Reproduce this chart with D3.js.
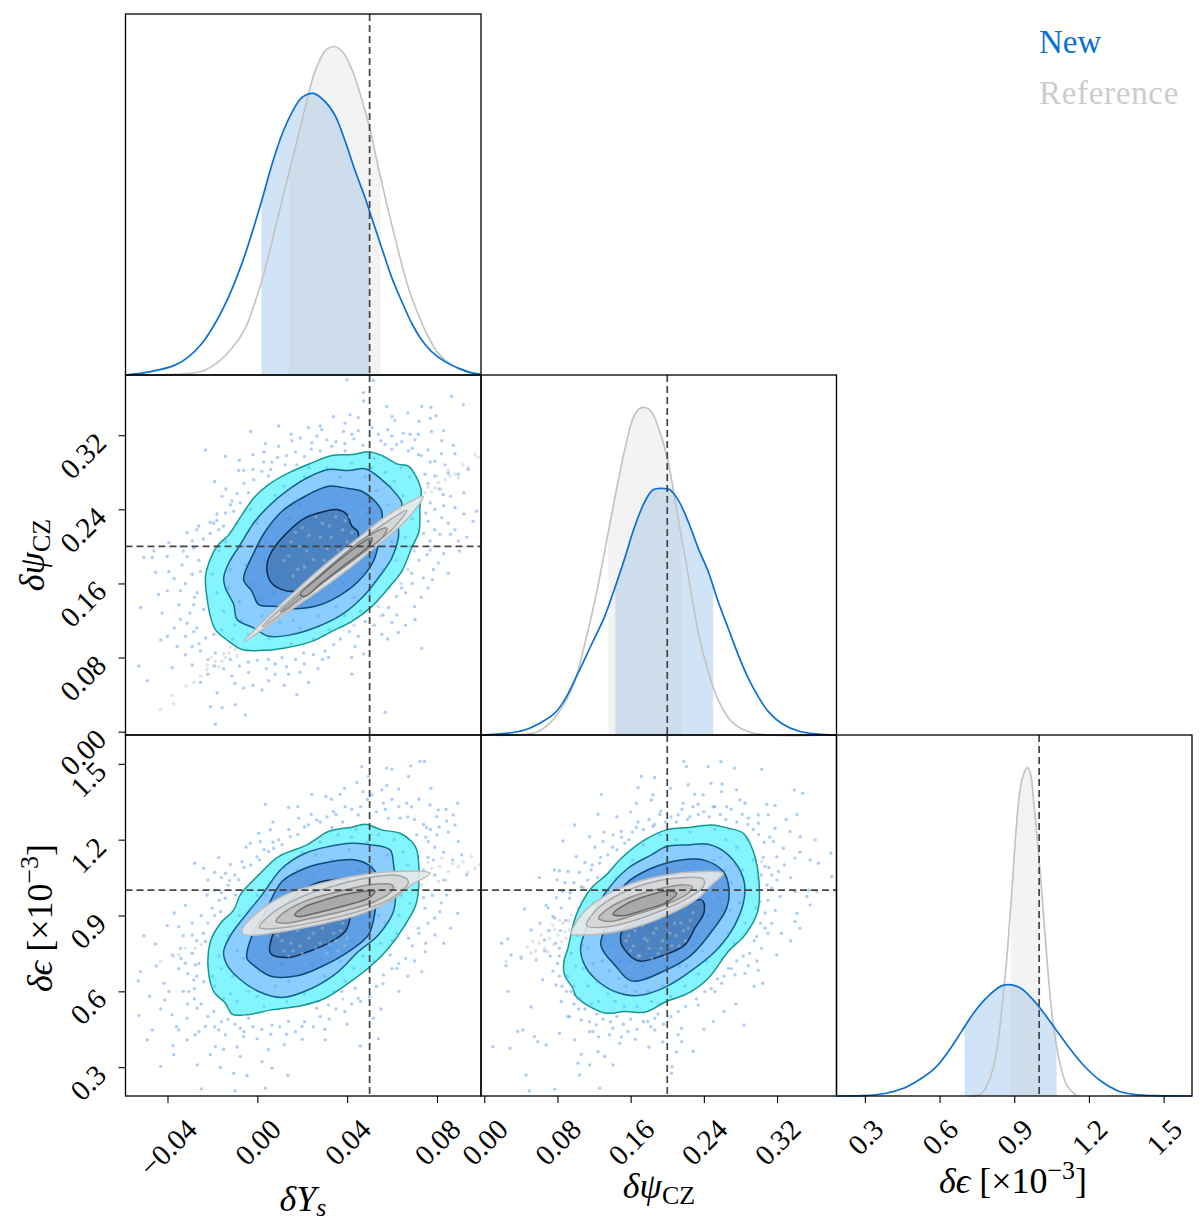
<!DOCTYPE html>
<html><head><meta charset="utf-8">
<script src="https://cdn.jsdelivr.net/npm/d3@7"></script>
<style>html,body{margin:0;padding:0;background:#fff}svg{display:block}
text{font-family:"Liberation Serif","DejaVu Serif",serif;fill:#000}</style></head><body><svg id="c" width="1200" height="1225"></svg>
<script>
// ---------- axes ----------
const ysDomain=[-0.0587,0.0996], psiDomain=[-0.0036,0.385], epsDomain=[0.186,1.614];
const ysTicks=[-0.04,0,0.04,0.08], psiTicks=[0,0.08,0.16,0.24,0.32], epsTicks=[0.3,0.6,0.9,1.2,1.5];
const ysTrue=0.05, psiTrue=0.2, epsTrue=1.0;
const legendLabels=["New","Reference"];
// ---------- 1D posteriors (x value, density as fraction of panel height) ----------
const ysNewX=[-0.0587,-0.0513,-0.0439,-0.0364,-0.0305,-0.0246,-0.0187,-0.0127,-0.0068,-0.0024,0.0021,0.0065,0.0110,0.0154,0.0199,0.0250,0.0302,0.0347,0.0391,0.0436,0.0480,0.0502,0.0554,0.0599,0.0643,0.0687,0.0732,0.0776,0.0836,0.0895,0.0954,0.0996];
const ysNewD=[0,.005,.014,.028,.051,.088,.144,.218,.310,.393,.486,.583,.667,.727,.769,.780,.757,.718,.648,.565,.491,.449,.352,.269,.204,.144,.097,.065,.037,.019,.006,.002];
const ysRefX=[-0.0587,-0.0364,-0.0290,-0.0231,-0.0172,-0.0113,-0.0053,-0.0009,0.0036,0.0080,0.0124,0.0169,0.0213,0.0258,0.0302,0.0339,0.0376,0.0421,0.0465,0.0502,0.0539,0.0584,0.0628,0.0673,0.0717,0.0761,0.0806,0.0865,0.0924,0.0996];
const ysRefD=[0,.002,.005,.014,.037,.074,.130,.204,.296,.407,.519,.630,.741,.843,.898,.910,.898,.847,.764,.681,.574,.454,.343,.241,.167,.106,.060,.028,.011,.003];
const ysNewBand=[0.0018,0.0499], ysRefBand=[0.0141,0.0548];
const psiNewX=[-0.0036,0.0256,0.0439,0.0621,0.0767,0.0877,0.1023,0.1169,0.1315,0.1425,0.1535,0.1644,0.1754,0.1845,0.1936,0.2028,0.2119,0.2229,0.2338,0.2448,0.2557,0.2667,0.2777,0.2886,0.2996,0.3105,0.3251,0.3434,0.3617,0.385];
const psiNewD=[0,.005,.014,.035,.060,.097,.171,.250,.329,.407,.491,.579,.648,.681,.685,.681,.653,.593,.519,.454,.370,.296,.222,.157,.106,.065,.032,.011,.003,0];
const psiRefX=[-0.0036,0.0329,0.0585,0.0731,0.0877,0.0987,0.1096,0.1206,0.1315,0.1425,0.1535,0.1626,0.1699,0.1754,0.1827,0.1918,0.2009,0.2119,0.2229,0.2338,0.2448,0.2557,0.2704,0.2886,0.3105,0.385];
const psiRefD=[0,0,.009,.037,.088,.148,.250,.370,.509,.657,.792,.880,.907,.910,.898,.843,.759,.602,.444,.287,.176,.097,.037,.009,0,0];
const psiNewBand=[0.1432,0.2503], psiRefBand=[0.1356,0.2159];
const epsNewX=[0.186,0.2866,0.3804,0.4607,0.5277,0.5812,0.6348,0.6884,0.7420,0.7955,0.8491,0.8893,0.9294,0.9696,1.0098,1.0634,1.1169,1.1839,1.2509,1.3178,1.3848,1.4652,1.614];
const epsNewD=[0,.001,.007,.023,.049,.077,.123,.179,.235,.277,.305,.308,.297,.271,.238,.188,.137,.081,.040,.014,.004,.001,0];
const epsRefX=[0.7286,0.7688,0.8022,0.8290,0.8491,0.8692,0.8893,0.9094,0.9228,0.9429,0.9536,0.9656,0.9790,0.9991,1.0165,1.0366,1.0567,1.0835,1.1103,1.1504];
const epsRefD=[0,.007,.049,.123,.235,.374,.559,.753,.846,.901,.910,.892,.809,.661,.512,.336,.197,.091,.031,0];
const epsNewBand=[0.7004,1.0701], epsRefBand=[0.8866,1.0058];
// ---------- 2D contours, panel A: dYs vs dPsi ----------
const aNew4X=[-.0231,-.0216,-.0179,-.0127,-.0068,-.0016,.0050,.0139,.0243,.0332,.0421,.0502,.0561,.0621,.0673,.0702,.0729,.0724,.0720,.0687,.0643,.0584,.0510,.0421,.0332,.0243,.0124,.0006,-.0068,-.0127,-.0187,-.0209,-.0224];
const aNew4Y=[.1677,.1821,.2001,.2127,.2343,.2523,.2667,.2793,.2901,.2981,.2991,.3020,.2973,.2891,.2865,.2775,.2613,.2415,.2163,.1983,.1731,.1551,.1353,.1191,.1083,.0975,.0904,.0875,.0886,.0975,.1102,.1245,.1443];
const aNew3X=[-.0150,-.0127,-.0076,-.0016,.0050,.0139,.0236,.0317,.0406,.0480,.0554,.0621,.0643,.0628,.0628,.0599,.0539,.0465,.0376,.0273,.0154,.0050,-.0016,-.0090,-.0105,-.0142];
const aNew3Y=[.1659,.1821,.2019,.2253,.2433,.2613,.2757,.2829,.2819,.2837,.2721,.2559,.2469,.2271,.2091,.1875,.1659,.1443,.1263,.1138,.1048,.1030,.1120,.1210,.1372,.1551];
const aNew2X=[-.0061,-.0016,.0036,.0110,.0213,.0317,.0406,.0465,.0517,.0554,.0547,.0517,.0450,.0361,.0258,.0154,.0073,.0006,-.0024];
const aNew2Y=[.1641,.1929,.2163,.2379,.2541,.2649,.2624,.2595,.2505,.2379,.2127,.1839,.1623,.1461,.1353,.1328,.1353,.1372,.1515];
const aNew1X=[.0043,.0065,.0124,.0213,.0302,.0354,.0399,.0421,.0447,.0443,.0361,.0258,.0169,.0110,.0058];
const aNew1Y=[.1803,.1947,.2127,.2307,.2379,.2397,.2343,.2217,.2163,.2019,.1803,.1605,.1515,.1533,.1623];
const aRef4X=[-.0061,.0065,.0184,.0302,.0450,.0584,.0739,.0658,.0539,.0421,.0302,.0184,.0065];
const aRef4Y=[.0968,.1282,.1551,.1803,.2091,.2343,.2541,.2271,.2019,.1785,.1569,.1372,.1174];
const aRef3X=[.0021,.0124,.0243,.0376,.0517,.0665,.0599,.0480,.0361,.0243,.0124];
const aRef3Y=[.1130,.1372,.1623,.1893,.2163,.2387,.2181,.1947,.1731,.1515,.1299];
const aRef2X=[.0102,.0213,.0332,.0480,.0576,.0561,.0450,.0317,.0199,.0124];
const aRef2Y=[.1292,.1533,.1803,.2091,.2199,.2109,.1893,.1659,.1461,.1317];
const aRef1X=[.0191,.0287,.0376,.0487,.0510,.0502,.0391,.0295,.0213];
const aRef1Y=[.1479,.1695,.1875,.2073,.2091,.2019,.1803,.1623,.1461];
// ---------- panel B: dYs vs dEps ----------
const bNew4X=[-.0219,-.0209,-.0164,-.0105,-.0076,.0006,.0095,.0221,.0317,.0421,.0480,.0554,.0636,.0687,.0710,.0710,.0658,.0584,.0502,.0406,.0302,.0199,.0065,-.0053,-.0113,-.0142,-.0194];
const bNew4Y=[.6915,.7969,.8694,.9222,.9815,1.0606,1.1332,1.1793,1.2321,1.2492,1.2611,1.2387,1.2255,1.1925,1.1596,.9552,.8629,.7706,.6981,.6322,.5728,.5438,.5267,.5069,.5095,.5530,.5992];
const bNew3X=[-.0150,-.0113,-.0039,.0021,.0110,.0213,.0317,.0421,.0510,.0591,.0606,.0616,.0606,.0539,.0450,.0361,.0243,.0110,.0006,-.0083,-.0135];
const bNew3Y=[.7574,.8299,.9156,.9815,1.0870,1.1463,1.1727,1.1859,1.1793,1.1596,1.1069,.9947,.9156,.8233,.7574,.6783,.6123,.5754,.5992,.6519,.7047];
const bNew2X=[-.0046,-.0031,.0036,.0110,.0213,.0332,.0436,.0495,.0532,.0524,.0495,.0406,.0302,.0184,.0065,-.0009];
const bNew2Y=[.7310,.8035,.9156,1.0343,1.0870,1.1134,1.1200,1.1002,1.0606,.9156,.8233,.7574,.7047,.6625,.6585,.6981];
const bNew1X=[.0058,.0073,.0139,.0243,.0332,.0406,.0413,.0391,.0317,.0228,.0139];
const bNew1Y=[.7509,.8366,.9552,1.0211,1.0408,1.0343,.8893,.8366,.7904,.7575,.7338];
const bRef4X=[-.0068,.0006,.0124,.0258,.0421,.0599,.0769,.0687,.0599,.0450,.0302,.0154,.0006,-.0061];
const bRef4Y=[.8431,.9156,.9815,1.0211,1.0540,1.0738,1.0672,1.0211,.9618,.9025,.8696,.8431,.8233,.8259];
const bRef3X=[.0009,.0065,.0199,.0332,.0480,.0628,.0673,.0599,.0450,.0302,.0154,.0036];
const bRef3Y=[.8523,.9090,.9749,1.0145,1.0474,1.0580,1.0343,.9684,.9156,.8827,.8563,.8470];
const bRef2X=[.0083,.0124,.0228,.0361,.0495,.0599,.0606,.0524,.0376,.0228,.0124];
const bRef2Y=[.8760,.9156,.9618,.9947,1.0211,1.0211,1.0053,.9552,.9156,.8866,.8695];
const bRef1X=[.0166,.0213,.0302,.0391,.0495,.0524,.0495,.0376,.0258,.0184];
const bRef1Y=[.9025,.9354,.9618,.9842,.9974,.9947,.9684,.9354,.9090,.8958];
// ---------- panel C: dPsi vs dEps ----------
const cNew4X=[.0870,.0914,.1005,.1169,.1334,.1498,.1754,.1991,.2229,.2484,.2667,.2831,.2941,.3003,.2989,.2850,.2667,.2448,.2229,.1991,.1754,.1535,.1334,.1133,.1005,.0968,.0877];
const cNew4Y=[.7179,.7706,.9025,1.0080,1.0606,1.1266,1.1991,1.2387,1.2479,1.2584,1.2453,1.2255,1.1530,1.0343,.9156,.8233,.7574,.6519,.5926,.5596,.5174,.5201,.5135,.5438,.5794,.6123,.6651];
const cNew3X=[.1052,.1133,.1334,.1571,.1827,.1991,.2229,.2448,.2667,.2831,.2842,.2740,.2557,.2302,.1991,.1681,.1425,.1206,.1096];
const cNew3Y=[.7706,.8629,.9947,1.0870,1.1397,1.1727,1.1793,1.1820,1.1397,1.0474,.9684,.8629,.7706,.6915,.6189,.5833,.5992,.6519,.7047];
const cNew2X=[.1272,.1370,.1535,.1827,.2156,.2393,.2612,.2674,.2649,.2484,.2265,.1991,.1608,.1425,.1315];
const cNew2Y=[.7904,.8893,1.0211,1.0870,1.1200,1.1200,1.0738,1.0080,.9288,.8366,.7443,.6849,.6414,.7047,.7509];
const cNew1X=[.1491,.1516,.1936,.2375,.2404,.2302,.2192,.1991,.1681,.1535];
const cNew1Y=[.7970,.8431,.9025,.9618,.9156,.8497,.7838,.7469,.7206,.7641];
const cRef4X=[.0950,.1060,.1279,.1571,.1900,.2229,.2612,.2484,.2338,.2009,.1608,.1243,.1023];
const cRef4Y=[.8259,.9025,.9684,1.0211,1.0540,1.0712,1.0672,1.0211,.9684,.9025,.8497,.8259,.8233];
const cRef3X=[.1118,.1243,.1498,.1790,.2083,.2393,.2393,.2192,.1863,.1535,.1243];
const cRef3Y=[.8602,.9288,.9881,1.0277,1.0474,1.0448,1.0145,.9618,.9090,.8695,.8523];
const cRef2X=[.1250,.1334,.1571,.1863,.2156,.2272,.2229,.1973,.1644,.1370];
const cRef2Y=[.8893,.9222,.9684,1.0013,1.0211,1.0145,.9881,.9420,.9025,.8760];
const cRef1X=[.1407,.1535,.1754,.2009,.2101,.2009,.1754,.1535];
const cRef1Y=[.9051,.9420,.9749,.9974,.9881,.9552,.9222,.8999];
// ---------- scatter samples outside the contours ----------
const aNewPts=[[.0399,.380],[.0517,.379],[.0473,.366],[.0865,.362],[.0917,.353],[.0473,.357],[.0576,.351],[.0732,.351],[.0773,.350],[.0670,.344],[.0502,.345],[.0339,.340],[.0796,.341],[.0770,.338],[.0413,.342],[.0450,.339],[.0391,.333],[.0613,.336],[.0095,.330],[.0228,.328],[.0287,.326],[.0384,.324],[.0421,.321],[.0539,.321],[.0599,.319],[.0680,.321],[.0717,.321],[.0776,.324],[-.003,.324],[.0191,.317],[.0265,.319],[.0154,.314],[.0036,.311],[.0095,.308],[-.0231,.304],[.0243,.312],[.0332,.308],[.0391,.303],[.0569,.310],[.0643,.313],[.0702,.315],[.0821,.314],[.0873,.309],[.0939,.283],[-.0142,.297],[-.002,.299],[.0028,.291],[.0065,.291],[.0124,.288],[.0176,.288],[-.0061,.282],[-.0083,.282],[-.0016,.272],[.0050,.276],[-.0039,.258],[-.0157,.254],[-.0113,.249],[-.0076,.247],[-.0142,.236],[-.0105,.238],[-.0261,.222],[-.0194,.225],[-.0172,.218],[-.0313,.215],[-.0394,.204],[-.0342,.200],[-.0283,.198],[-.0505,.188],[-.0468,.188],[-.0401,.189],[-.0313,.189],[-.0453,.172],[-.0394,.173],[-.0335,.180],[-.0253,.173],[-.0401,.152],[-.0342,.152],[-.0268,.150],[-.0520,.134],[-.0283,.137],[-.0239,.132],[-.0424,.128],[-.0342,.121],[-.0313,.117],[-.0283,.108],[-.0430,.099],[-.0401,.103],[-.0357,.092],[-.0231,.101],[-.0194,.105],[-.0253,.087],[-.0187,.085],[-.0528,.071],[-.0490,.055],[-.0379,.069],[-.0290,.072],[-.0113,.060],[-.0039,.064],[.0080,.062],[.0139,.062],[-.0253,.053],[-.0179,.042],[-.0061,.047],[.0021,.045],[.0228,.053],[.0176,.040],[-.0209,.027],[-.0098,.029],[-.0157,.026],[-.0053,.018],[-.0187,.008],[.0569,.021],[.0421,.062],[.0317,.080],[.0206,.085],[.0050,.078],[.0110,.080],[.0302,.087],[.0436,.092],[.0473,.084],[.0628,.107],[.0554,.105],[.0584,.134],[.0621,.126],[.0702,.121],[.0732,.090],[.0643,.155],[.0687,.171],[.0739,.166],[.0784,.175],[.0850,.171],[.0806,.182],[.0756,.191],[.0895,.206],[.0932,.210],[.0813,.213],[.0769,.206],[.0976,.238],[.0961,.227],[.0880,.242],[.0821,.231],[.0761,.227],[.0828,.256],[.0770,.291],[.0836,.288],[.0895,.278],[.0747,.278],[.0717,.299],[.0673,.303],[.0599,.305],
[-.018,.235],[-.021,.226],[-.012,.245],[-.009,.257],[-.014,.262],[-.006,.268],[-.002,.283],[.002,.281],[.006,.283],[.009,.296],[.013,.298],[.017,.302],[.021,.297],[.024,.305],[.028,.303],[.031,.315],[.035,.313],[.039,.311],[.043,.316],[.047,.309],[.051,.328],[.055,.314],[.058,.326],[.062,.310],[.065,.322],[.069,.306],[.073,.298],[.076,.304],[.079,.292],[.082,.300],[.085,.279],[.079,.276],[.076,.268],[.081,.262],[.086,.254],[.077,.247],[.083,.244],[.079,.240],[.075,.236],[.085,.225],[.079,.218],[.088,.218],[.074,.214],[.077,.196],[.083,.192],[.072,.185],[.078,.164],[.069,.160],[.066,.150],[.073,.145],[.062,.146],[.060,.118],[.056,.126],[.052,.115],[.048,.119],[.045,.103],[.041,.108],[.037,.100],[.034,.094],[.029,.078],[.025,.083],[.021,.073],[.017,.078],[.013,.070],[.008,.073],[.004,.068],[.000,.077],[-.004,.075],[-.008,.071],[-.012,.078],[-.015,.068],[-.019,.071],[-.022,.078],[-.026,.095],[-.029,.092],[-.032,.103],[-.027,.112],[-.030,.128],[-.035,.137],[-.028,.145],[-.032,.160],[-.037,.165],[-.029,.170],[-.026,.185],[-.033,.195],[-.029,.206],[-.024,.208],[-.021,.214],[-.027,.218],[-.018,.228],[-.015,.222],[-.002,.050],[-.010,.052],[.005,.055],[.012,.050],[.019,.064],[.027,.068],[-.022,.062],[-.032,.083],[-.037,.112],[-.044,.148],[-.046,.195],[.042,.080],[.050,.095],[.058,.100],[.066,.115],[.070,.135],[.076,.155],[.090,.195],[.086,.213],[.092,.235],[.092,.258],[.088,.300],[.083,.325],[.072,.335],[.060,.340],[.045,.325],[.028,.330],[.015,.321],[.003,.302],[-.008,.293],[-.019,.270]];
const aRefPts=[[-.0431,.024],[-.0373,.030],[-.0380,.039],[-.0317,.049],[-.0283,.053],[-.0253,.060],[-.0224,.067],[-.0194,.071],[-.0157,.076],[-.0127,.085],[-.0098,.089],[-.0068,.094],[.0747,.258],[.0791,.263],[.0836,.272],[.0880,.278],[.0939,.285],[.0969,.299],[.0984,.296],[.0806,.269],[.0858,.276],[.0776,.259],[.0895,.274],[-.0224,.072],[-.0142,.080],[-.0187,.076],[-.0205,.080],[-.0170,.070],[-.0120,.091],[-.0090,.082],[-.0150,.084],[.0760,.264],[.0820,.262],[.0850,.282],[.0915,.288],[.0800,.276]];
const bNewPts=[[.0724,1.509],[.0744,1.509],[.0683,1.492],[.0465,1.489],[.0576,1.483],[.0599,1.479],[.0673,1.450],[.0495,1.450],[.0443,1.426],[.0576,1.414],[.0773,1.403],[.0388,1.403],[.0554,1.397],[.0510,1.377],[.0369,1.379],[.0243,1.379],[.0305,1.371],[.0769,1.337],[.0892,1.344],[.0036,1.340],[.0139,1.327],[.0561,1.344],[.0665,1.344],[.0687,1.330],[.0806,1.318],[.0873,1.298],[.0450,1.298],[.0391,1.330],[.0339,1.311],[.0184,1.285],[.0265,1.278],[.0584,1.285],[.0636,1.285],[.0799,1.291],[.0843,1.274],[.0753,1.248],[.0332,1.248],[.0006,1.225],[.0058,1.239],[.0228,1.258],[.0880,1.258],[.0710,1.219],[.0799,1.219],[.0013,1.193],[.0147,1.212],[.0095,1.199],[-.0031,1.186],[.0895,1.193],[.0073,1.166],[.0761,1.193],[-.0172,1.129],[-.0068,1.113],[-.0001,1.132],[.0050,1.153],[-.0120,1.102],[-.0279,1.107],[-.0239,1.087],[-.0142,1.067],[.0784,1.120],[.0717,1.132],[-.0083,1.041],[-.0124,1.038],[-.0224,.981],[-.0142,.968],[-.0098,.981],[-.0201,.929],[-.0164,.915],[-.0401,.860],[-.0350,.856],[-.0505,.820],[-.0290,.823],[-.0453,.787],[-.0342,.770],[-.0379,.744],[-.0231,.797],[-.0320,.711],[-.0276,.705],[-.0520,.678],[-.0530,.642],[-.0416,.632],[-.0283,.645],[-.0394,.599],[-.0305,.599],[-.0239,.638],[-.0412,.566],[-.0268,.533],[-.0379,.507],[-.0194,.520],[-.0527,.505],[-.0313,.494],[-.0172,.447],[-.0468,.447],[-.0350,.447],[-.0490,.408],[-.0313,.408],[-.0276,.428],[-.0231,.461],[-.0376,.385],[-.0187,.382],[-.0142,.428],[-.0076,.454],[-.0061,.421],[-.0001,.412],[-.0039,.494],[.0065,.467],[.0139,.481],[.0199,.461],[.0265,.533],[.0302,.408],[-.0372,.349],[-.0209,.349],[-.0076,.342],[.0021,.322],[-.0430,.303],[-.0267,.309],[-.0164,.299],[.0065,.296],[-.0105,.276],[-.0046,.267],[.0136,.267],[-.0249,.214],[-.0098,.206],[.0036,.217],[.0458,.384],[.0539,.412],[.0517,.494],[.0436,.612],[.0376,.599],[.0317,.546],[.0450,.573],[.0561,.665],[.0621,.691],[.0591,.744],[.0732,.678],[.0673,.810],[.0747,.757],[.0791,.823],[.0717,.850],[.0813,.915],[.0892,.909],[.0843,.981],[.0747,.929],[.0932,1.060],
[-.016,.99],[-.013,1.02],[-.019,1.00],[-.010,1.06],[-.006,1.09],[-.003,1.10],[.001,1.12],[.003,1.16],[.007,1.19],[.011,1.18],[.014,1.24],[.018,1.22],[.021,1.25],[.024,1.30],[.028,1.27],[.031,1.29],[.035,1.30],[.038,1.27],[.042,1.32],[.046,1.33],[.049,1.36],[.053,1.31],[.057,1.32],[.060,1.36],[.063,1.33],[.067,1.29],[.070,1.28],[.074,1.26],[.077,1.24],[.081,1.25],[.085,1.23],[.075,1.21],[.079,1.17],[.083,1.15],[.076,1.13],[.087,1.12],[.074,1.08],[.079,1.06],[.083,1.04],[.078,.98],[.074,.97],[.082,.95],[.076,.87],[.079,.89],[.072,.83],[.069,.78],[.075,.79],[.066,.73],[.063,.71],[.060,.69],[.067,.66],[.056,.63],[.053,.62],[.050,.58],[.046,.56],[.042,.55],[.039,.52],[.035,.53],[.032,.49],[.028,.50],[.025,.46],[.021,.48],[.017,.44],[.013,.43],[.010,.46],[.006,.43],[.002,.45],[-.002,.46],[-.006,.44],[-.010,.47],[-.013,.49],[-.016,.48],[-.019,.46],[-.022,.50],[-.025,.55],[-.028,.57],[-.031,.55],[-.033,.60],[-.028,.61],[-.027,.66],[-.031,.67],[-.035,.69],[-.026,.71],[-.029,.75],[-.034,.73],[-.027,.80],[-.033,.82],[-.024,.83],[-.022,.87],[-.029,.87],[-.019,.90],[-.025,.90],[-.017,.96],[-.022,1.04],[-.016,1.05],[-.045,.70],[-.048,.58],[-.043,.53],[-.036,.46],[-.026,.44],[-.015,.37],[-.009,.38],[.005,.37],[.012,.39],[.020,.41],[.030,.45],[.040,.47],[.055,.53],[.063,.60],[.070,.72],[.083,.79],[.086,.85],[.089,1.00],[.091,1.14],[.084,1.32],[.072,1.36],[.063,1.40],[.047,1.39],[.033,1.36],[.018,1.33],[.007,1.27],[-.005,1.17],[-.019,1.07],[-.032,.94],[-.037,.91]];
const bRefPts=[[-.0431,.718],[-.0373,.738],[-.0320,.770],[-.0276,.770],[-.0231,.797],[-.0172,.836],[-.0127,.856],[-.0098,.863],[.0717,1.087],[.0776,1.087],[.0813,1.094],[.0850,1.074],[.0895,1.094],[.0954,1.133],[.0969,1.087],[.0821,1.127],[.0747,1.054],[.0806,1.034],[.0732,1.021],[.0917,1.113],[-.0350,.745],[-.0250,.785],[-.0200,.810],[-.0290,.750],[-.0150,.845],[.0790,1.060],[.0870,1.105],[.0935,1.070],[.0760,1.110],[.0840,1.040],[.0990,1.100]];
const cNewPts=[[.2182,1.509],[.2587,1.509],[.2210,1.489],[.2448,1.489],[.2733,1.483],[.3032,1.479],[.1718,1.450],[.1863,1.446],[.2229,1.417],[.2477,1.423],[.2035,1.403],[.1681,1.406],[.3390,1.397],[.3481,1.384],[.1279,1.379],[.1845,1.377],[.2393,1.377],[.2594,1.390],[.2758,1.397],[.1827,1.357],[.2174,1.344],[.2338,1.340],[.2502,1.330],[.2850,1.344],[.3087,1.340],[.3178,1.335],[.1663,1.344],[.2649,1.330],[.2795,1.357],[.0859,1.195],[.0987,1.258],[.1243,1.300],[.1929,1.313],[.2119,1.298],[.2247,1.291],[.2996,1.298],[.3105,1.298],[.3416,1.300],[.2886,1.285],[.1663,1.248],[.1845,1.252],[.1498,1.232],[.1407,1.219],[.1151,1.212],[.1535,1.186],[.1297,1.193],[.2996,1.265],[.3178,1.245],[.3342,1.232],[.3452,1.212],[.3617,1.199],[.3160,1.193],[.3270,1.166],[.3562,1.120],[.3789,1.146],[.3653,1.107],[.3197,1.132],[.3397,1.127],[.3068,1.094],[.3215,1.074],[.3799,1.054],[.3142,1.060],[.3142,1.008],[.3397,.995],[.3014,.955],[.3233,.975],[.3525,.975],[.3562,.942],[.3635,.995],[.3416,.909],[.3142,.869],[.3068,.850],[.3397,.876],[.2977,.817],[.3197,.744],[.2886,.701],[.2996,.683],[.2667,.691],[.2850,.671],[.3043,.632],[.2594,.632],[.2740,.665],[.2411,.599],[.2521,.599],[.2338,.546],[.2503,.481],[.2839,.467],[.2156,.454],[.1863,.447],[.2119,.428],[.2284,.362],[.2046,.276],[.2053,.302],[.2156,.401],[.1571,.441],[.1863,.494],[.1790,.481],[.1407,.454],[.1224,.467],[.1370,.428],[.1187,.441],[.1060,.487],[.0932,.500],[.1243,.361],[.1480,.395],[.1060,.351],[.1023,.316],[.1151,.309],[.1042,.269],[.1261,.217],[.0768,.213],[.0494,.206],[.0457,.269],[.1407,.309],[.1315,.342],[.0987,.408],[.0822,.434],[.0676,.388],[.0548,.421],[.0585,.401],[.0421,.447],[.0365,.441],[.0092,.381],[.0282,.375],[.0512,.538],[.0256,.600],[.0639,.646],[.0785,.625],[.0567,.724],[.0293,.744],[.0238,.701],[.0402,.731],[.0190,.790],[.0256,.807],[.0512,.843],[.0439,.926],[.0676,.941],[.0603,1.050],[.0797,1.041],[.0822,1.077],[.0914,1.074],[.0768,1.080],[.1060,1.014],[.1169,1.080],[.1261,1.107],[.1005,1.133],[.0859,.995],[.0932,.968],[.0749,.896],[.0658,.803],[.0822,.770],[.0987,.586],[.0841,.560],[.0914,.500],
[.118,1.10],[.124,1.05],[.113,1.04],[.108,1.01],[.127,1.13],[.135,1.14],[.140,1.17],[.145,1.16],[.150,1.21],[.158,1.20],[.162,1.23],[.168,1.27],[.174,1.24],[.180,1.28],[.186,1.26],[.192,1.30],[.198,1.27],[.204,1.29],[.210,1.27],[.216,1.32],[.222,1.28],[.228,1.33],[.234,1.30],[.240,1.31],[.246,1.29],[.252,1.33],[.258,1.30],[.264,1.28],[.270,1.32],[.276,1.27],[.282,1.30],[.288,1.26],[.294,1.24],[.300,1.22],[.306,1.19],[.312,1.21],[.305,1.13],[.311,1.09],[.303,1.06],[.309,1.02],[.320,1.04],[.328,1.10],[.335,1.05],[.310,.96],[.318,.92],[.307,.91],[.302,.87],[.310,.83],[.325,.83],[.295,.80],[.303,.77],[.290,.75],[.283,.74],[.276,.72],[.298,.72],[.270,.69],[.262,.66],[.255,.65],[.248,.61],[.240,.64],[.232,.57],[.226,.60],[.220,.54],[.212,.52],[.204,.50],[.196,.47],[.190,.51],[.182,.46],[.174,.48],[.167,.45],[.160,.49],[.152,.47],[.145,.50],[.138,.48],[.130,.49],[.123,.51],[.115,.48],[.110,.53],[.103,.53],[.098,.55],[.095,.60],[.090,.60],[.085,.62],[.082,.66],[.075,.68],[.080,.71],[.072,.74],[.082,.74],[.066,.76],[.078,.79],[.071,.84],[.083,.84],[.061,.87],[.077,.89],[.089,.88],[.070,.93],[.084,.93],[.094,.99],[.079,.97],[.098,1.03],[.088,1.03],[.104,1.07],[.110,1.11],[.121,1.17],[.131,1.23],[.115,.44],[.125,.42],[.150,.42],[.165,.41],[.180,.38],[.195,.40],[.210,.36],[.240,.45],[.262,.52],[.275,.55],[.295,.62],[.335,.80],[.345,.85],[.355,1.00],[.345,1.15],[.330,1.28],[.260,1.42],[.230,1.38],[.160,1.31],[.145,1.29]];
const cRefPts=[[.0238,.718],[.0402,.738],[.0512,.751],[.0530,.797],[.0658,.770],[.0713,.810],[.0804,.823],[.0749,.862],[.0859,.869],[.0932,.843],[.0950,.902],[.0841,.797],[.0621,.823],[.0694,.757],[.0895,.810],[.1023,.929],[.1169,.968],[.1243,1.001],[.2448,1.087],[.2557,1.107],[.2776,1.113],[.2850,1.094],[.3032,1.113],[.0600,.790],[.0760,.785],[.0880,.835],[.0690,.840],[.0820,.880],[.0920,.880],[.0560,.760],[.0980,.860],[.0470,.775],[.0770,.845]];
// ---------- samples seen inside the contours ----------
const aNewIn=[[-.018,.150],[-.015,.130],[-.012,.175],[-.010,.115],[-.008,.140],[-.006,.200],[-.004,.105],[-.002,.160],[0,.225],[.002,.125],[.003,.185],[.005,.100],[.006,.245],[.007,.150],[.009,.210],[.010,.118],[.011,.170],[.012,.265],[.013,.135],[.014,.230],[.015,.095],[.016,.190],[.017,.155],[.018,.250],[.019,.112],[.020,.210],[.021,.275],[.022,.140],[.023,.170],[.024,.235],[.025,.100],[.026,.195],[.027,.125],[.028,.260],[.029,.155],[.030,.215],[.031,.285],[.032,.110],[.033,.180],[.034,.245],[.035,.135],[.036,.205],[.037,.275],[.038,.160],[.039,.125],[.040,.230],[.041,.185],[.042,.290],[.043,.145],[.044,.255],[.045,.210],[.046,.130],[.047,.170],[.048,.275],[.049,.235],[.050,.150],[.051,.195],[.052,.295],[.053,.260],[.054,.135],[.055,.220],[.056,.175],[.057,.280],[.058,.245],[.059,.155],[.060,.205],[.061,.270],[.062,.185],[.063,.235],[.064,.160],[.065,.255],[.066,.210],[.067,.175],[.068,.275],[.069,.230],[.070,.195],[-.020,.170],[-.017,.195],[-.014,.205],[-.009,.225],[-.016,.110],[-.013,.155],[-.011,.100],[-.007,.120],[-.005,.180],[-.003,.240],[.001,.145],[.004,.205],[.008,.255],[.012,.195],[.016,.120],[.019,.245],[.023,.285],[.027,.225],[.031,.165],[.035,.265],[.039,.195],[.043,.115],[.047,.245],[.051,.285],[.055,.125],[.059,.265],[.064,.285],[.068,.200]];
const bNewIn=[[-.019,.62],[-.017,.74],[-.015,.57],[-.013,.82],[-.011,.66],[-.009,.56],[-.008,.90],[-.006,.73],[-.004,.60],[-.002,.84],[0,.98],[.001,.68],[.003,.54],[.005,.78],[.006,1.03],[.008,.62],[.009,.90],[.011,.71],[.012,1.09],[.013,.56],[.015,.83],[.016,1.00],[.017,.66],[.019,.76],[.020,1.15],[.021,.59],[.023,.92],[.024,.71],[.025,1.06],[.026,.82],[.027,.56],[.028,1.19],[.030,.66],[.031,.97],[.032,.77],[.033,1.12],[.034,.60],[.035,.87],[.036,1.22],[.037,.72],[.038,1.03],[.039,.64],[.040,.93],[.041,1.16],[.042,.80],[.043,.69],[.044,1.24],[.045,1.08],[.046,.88],[.047,.74],[.048,.99],[.049,1.19],[.050,.82],[.051,1.10],[.052,.72],[.053,.94],[.054,1.22],[.055,.79],[.056,1.03],[.057,.87],[.058,1.14],[.059,.96],[.060,.80],[.061,1.20],[.062,1.06],[.063,.90],[.064,.98],[.065,1.15],[.066,.86],[.067,1.10],[.068,.95],[.069,1.03],[-.020,.66],[-.016,.69],[-.012,.59],[-.009,.76],[-.006,.84],[-.003,.93],[.000,.58],[.004,.98],[.007,.69],[.010,.80],[.014,.64],[.018,1.08],[.022,.84],[.026,1.14],[.030,.89],[.034,1.04],[.038,.57],[.042,1.21],[.046,1.02],[.050,.69],[.054,.90],[.058,1.02],[.062,.83],[.066,1.04],[.028,.73],[.020,.98],[.012,.86],[.036,.95]];
const cNewIn=[[.091,.66],[.095,.75],[.098,.62],[.102,.82],[.105,.57],[.108,.69],[.111,.88],[.114,.77],[.117,.55],[.120,.95],[.123,.64],[.126,.84],[.129,.72],[.132,1.00],[.135,.59],[.138,.90],[.141,.78],[.144,1.05],[.147,.65],[.150,.84],[.153,.54],[.156,.97],[.159,.72],[.162,1.12],[.165,.60],[.168,.88],[.171,.79],[.174,1.18],[.177,.66],[.180,1.02],[.183,.56],[.186,.93],[.189,.74],[.192,1.22],[.195,.62],[.198,1.10],[.201,.83],[.204,.58],[.207,.97],[.210,1.20],[.213,.70],[.216,1.05],[.219,.62],[.222,.90],[.225,1.23],[.228,.78],[.231,1.12],[.234,.67],[.237,.96],[.240,1.18],[.243,.72],[.246,1.04],[.249,.85],[.252,1.24],[.255,.77],[.258,1.13],[.261,.92],[.264,1.20],[.267,.83],[.270,1.03],[.273,.79],[.276,1.17],[.279,.95],[.282,1.08],[.285,.87],[.288,1.20],[.291,1.00],[.294,1.12],[.297,.93],[.299,1.05],[.100,.70],[.107,.78],[.113,.62],[.119,.71],[.125,.56],[.131,.80],[.137,.68],[.143,.56],[.149,.72],[.155,.62],[.161,.80],[.167,.54],[.173,.70],[.179,.60],[.185,.82],[.191,.55],[.197,.70],[.203,.90],[.209,.64],[.215,.78],[.221,.70],[.227,.88],[.233,.82],[.239,.76],[.245,.90],[.251,1.12],[.257,.97],[.263,1.08],[.269,.92],[.275,1.10]];
const aRefIn=[[.012,.185],[.015,.205],[.018,.175],[.020,.220],[.022,.195],[.024,.165],[.026,.232],[.028,.210],[.030,.185],[.032,.222],[.034,.172],[.035,.232],[.036,.196],[.038,.218],[.040,.205],[.041,.232],[.014,.190],[.017,.215],[.021,.178],[.023,.212],[.025,.186],[.027,.168],[.029,.225],[.031,.198],[.033,.210],[.037,.180],[.039,.228],[.042,.215],[.016,.168],[.019,.200]];
const bRefIn=[[.009,.82],[.012,.76],[.015,.79],[.018,.84],[.020,.75],[.023,.81],[.026,.77],[.029,.85],[.032,.79],[.034,.83],[.036,.76],[.038,.87],[.040,.81],[.041,.90],[.011,.80],[.014,.74],[.017,.88],[.019,.78],[.022,.86],[.025,.83],[.028,.79],[.031,.75],[.033,.89],[.035,.80],[.037,.84],[.039,.78],[.013,.84],[.016,.76],[.024,.90],[.030,.87]];
const cRefIn=[[.155,.80],[.160,.76],[.165,.84],[.170,.74],[.175,.81],[.180,.77],[.185,.83],[.190,.75],[.195,.80],[.200,.85],[.205,.78],[.210,.82],[.215,.87],[.220,.80],[.225,.88],[.158,.82],[.163,.78],[.168,.74],[.173,.86],[.178,.80],[.183,.73],[.188,.85],[.193,.77],[.198,.74],[.203,.83],[.208,.87],[.213,.78],[.218,.84],[.223,.85],[.228,.91]];

// ---------- layout ----------
const colX=[125.5,481,836.5,1192], rowY=[14,375,735,1096];
const blue="#0b6fd3", grey="#c4c4c4";
const newFill=["#4b83c2","#5e9fe6","#8bcdff","#84f4ff"], newEdge=["#0b2c50","#0c4a74","#11648a","#14978f"];
const refFill=["#a6a6a6","#bfbfbf","#d6d6d6","#e8e8e8"], refEdge=["#686868","#8e8e8e","#a8a8a8","#bbbbbb"];
const svg=d3.select("#c");
const defs=svg.append("defs");
const xs=[d3.scaleLinear(ysDomain,[colX[0],colX[1]]),d3.scaleLinear(psiDomain,[colX[1],colX[2]]),d3.scaleLinear(epsDomain,[colX[2],colX[3]])];
const ysY=[null,d3.scaleLinear(psiDomain,[rowY[2],rowY[1]]),d3.scaleLinear(epsDomain,[rowY[3],rowY[2]])];
const truth=[ysTrue,psiTrue,epsTrue];
let uid=0;
function clipRect(x0,y0,x1,y1){const id="clip"+(uid++);defs.append("clipPath").attr("id",id).append("rect").attr("x",x0).attr("y",y0).attr("width",x1-x0).attr("height",y1-y0);return `url(#${id})`;}
function truthLines(g,c,r,diag){
  const o={stroke:"#444",w:1.7,d:"7,4"};
  g.append("line").attr("x1",xs[c](truth[c])).attr("x2",xs[c](truth[c])).attr("y1",rowY[r]).attr("y2",rowY[r+1]).attr("stroke",o.stroke).attr("stroke-width",o.w).attr("stroke-dasharray",o.d);
  if(!diag) g.append("line").attr("x1",colX[c]).attr("x2",colX[c+1]).attr("y1",ysY[r](truth[r])).attr("y2",ysY[r](truth[r])).attr("stroke",o.stroke).attr("stroke-width",o.w).attr("stroke-dasharray",o.d);
}
function frame(g,c,r){g.append("rect").attr("x",colX[c]).attr("y",rowY[r]).attr("width",colX[c+1]-colX[c]).attr("height",rowY[r+1]-rowY[r]).attr("fill","none").attr("stroke","#000").attr("stroke-width",1.3);}
function diag(i,nx,nd,rx,rd,nb,rb){
  const g=svg.append("g");
  const x=xs[i], y=d3.scaleLinear([0,1],[rowY[i+1],rowY[i]]);
  const cv=d3.curveCatmullRom.alpha(.5);
  const area=d3.area().x(d=>x(d[0])).y0(y(0)).y1(d=>y(Math.max(0,d[1]))).curve(cv);
  const line=d3.line().x(d=>x(d[0])).y(d=>y(d[1])).curve(cv);
  const n=d3.zip(nx,nd), rf=d3.zip(rx,rd);
  g.append("path").attr("d",area(n)).attr("fill",blue).attr("fill-opacity",.19).attr("clip-path",clipRect(x(nb[0]),rowY[i],x(nb[1]),rowY[i+1]));
  g.append("path").attr("d",area(rf)).attr("fill",grey).attr("fill-opacity",.2).attr("clip-path",clipRect(x(rb[0]),rowY[i],x(rb[1]),rowY[i+1]));
  g.append("path").attr("d",line(rf)).attr("fill","none").attr("stroke",grey).attr("stroke-width",1.7);
  g.append("path").attr("d",line(n)).attr("fill","none").attr("stroke",blue).attr("stroke-width",1.7);
  truthLines(g,i,i,true); frame(g,i,i);
}
function joint(c,r,news,refs,np,rp,nIn,rIn){
  const g=svg.append("g");
  const x=xs[c], y=ysY[r];
  const clip=clipRect(colX[c],rowY[r],colX[c+1],rowY[r+1]);
  const inner=g.append("g").attr("clip-path",clip);
  const path=d3.line().x(d=>x(d[0])).y(d=>y(d[1])).curve(d3.curveCatmullRomClosed.alpha(.5));
  const dots=(data,r0,fill,op)=>inner.append("g").selectAll("circle").data(data).join("circle").attr("cx",d=>x(d[0])).attr("cy",d=>y(d[1])).attr("r",r0).attr("fill",fill).attr("fill-opacity",op);
  dots(np,1.7,"#3a8be6",.42);
  dots(rp,1.8,"#c8c8c8",.5);
  [3,2,1,0].forEach(l=>inner.append("path").attr("d",path(news[l])).attr("fill",newFill[l]).attr("stroke",newEdge[l]).attr("stroke-width",1.5));
  dots(nIn,1.7,"#2f8fe8",.3);
  dots(rIn,1.7,"#c8c8c8",.4);
  [3,2,1,0].forEach(l=>inner.append("path").attr("d",path(refs[l])).attr("fill",refFill[l]).attr("fill-opacity",.9).attr("stroke",refEdge[l]).attr("stroke-width",1.5));
  truthLines(g,c,r,false); frame(g,c,r);
}
diag(0,ysNewX,ysNewD,ysRefX,ysRefD,ysNewBand,ysRefBand);
diag(1,psiNewX,psiNewD,psiRefX,psiRefD,psiNewBand,psiRefBand);
diag(2,epsNewX,epsNewD,epsRefX,epsRefD,epsNewBand,epsRefBand);
joint(0,1,[d3.zip(aNew1X,aNew1Y),d3.zip(aNew2X,aNew2Y),d3.zip(aNew3X,aNew3Y),d3.zip(aNew4X,aNew4Y)],[d3.zip(aRef1X,aRef1Y),d3.zip(aRef2X,aRef2Y),d3.zip(aRef3X,aRef3Y),d3.zip(aRef4X,aRef4Y)],aNewPts,aRefPts,aNewIn,aRefIn);
joint(0,2,[d3.zip(bNew1X,bNew1Y),d3.zip(bNew2X,bNew2Y),d3.zip(bNew3X,bNew3Y),d3.zip(bNew4X,bNew4Y)],[d3.zip(bRef1X,bRef1Y),d3.zip(bRef2X,bRef2Y),d3.zip(bRef3X,bRef3Y),d3.zip(bRef4X,bRef4Y)],bNewPts,bRefPts,bNewIn,bRefIn);
joint(1,2,[d3.zip(cNew1X,cNew1Y),d3.zip(cNew2X,cNew2Y),d3.zip(cNew3X,cNew3Y),d3.zip(cNew4X,cNew4Y)],[d3.zip(cRef1X,cRef1Y),d3.zip(cRef2X,cRef2Y),d3.zip(cRef3X,cRef3Y),d3.zip(cRef4X,cRef4Y)],cNewPts,cRefPts,cNewIn,cRefIn);
// ---------- axes via d3 ----------
const TICK=29;
function styleAxis(g){g.select(".domain").remove();g.selectAll("line").attr("stroke","#000").attr("stroke-width",1.1);g.selectAll("text").attr("font-size",TICK).attr("fill","#000").attr("dy",null);}
function placeX(g){g.selectAll(".tick text").each(function(){const t=d3.select(this).attr("y",0).attr("text-anchor","middle").attr("dominant-baseline","central");const L=this.getComputedTextLength();const half=(L+20)*.7071/2;t.attr("transform",`translate(0,${21+half}) rotate(-45)`);});}
function placeY(g){g.selectAll(".tick text").each(function(){const t=d3.select(this).attr("x",0).attr("text-anchor","middle").attr("dominant-baseline","central");const L=this.getComputedTextLength();const half=(L+20)*.7071/2;t.attr("transform",`translate(${-17.5-half},${-5+half}) rotate(-45)`);});}
const xFmt=[d3.format(".2f"),d3.format(".2f"),d3.format(".1f")];
[ysTicks,psiTicks,epsTicks].forEach((tv,i)=>{
  const g=svg.append("g").attr("transform",`translate(0,${rowY[3]})`).call(d3.axisBottom(xs[i]).tickValues(tv).tickFormat(xFmt[i]).tickSize(7));
  styleAxis(g);placeX(g);
});
[[1,psiTicks,".2f"],[2,epsTicks,".1f"]].forEach(([r,tv,f])=>{
  const g=svg.append("g").attr("transform",`translate(${colX[0]},0)`).call(d3.axisLeft(ysY[r]).tickValues(tv).tickFormat(d3.format(f)).tickSize(7));
  styleAxis(g);placeY(g);
});
// ---------- labels ----------
function mathLabel(x,y,rot,anchor,build){
  const t=svg.append("text").attr("transform",`translate(${x},${y}) rotate(${rot})`).attr("text-anchor",anchor).attr("font-size",36);
  build(t);return t;
}
const ts=(t,s,o={})=>{const e=t.append("tspan").text(s);if(o.it)e.attr("font-style","italic");if(o.size)e.attr("font-size",o.size);if(o.dy)e.attr("dy",o.dy);return e;};
const lblYs=t=>{ts(t,"δ",{it:1});ts(t,"Y",{it:1});ts(t,"s",{it:1,size:26,dy:5});};
const lblPsi=t=>{ts(t,"δψ",{it:1});ts(t,"CZ",{size:26,dy:6});};
const lblEps=t=>{ts(t,"δϵ",{it:1});ts(t," [×10");ts(t,"−3",{size:26,dy:-14});ts(t,"]",{dy:14});};
mathLabel(303,1211,0,"middle",lblYs);
mathLabel(659,1198,0,"middle",lblPsi);
mathLabel(1013,1193,0,"middle",lblEps);
mathLabel(44,555,-90,"middle",lblPsi);
mathLabel(52,918,-90,"middle",lblEps);
svg.append("text").attr("x",1039).attr("y",53).attr("font-size",33).style("fill",blue).text(legendLabels[0]);
svg.append("text").attr("x",1039).attr("y",104).attr("font-size",33).attr("letter-spacing",.7).style("fill","#cccccc").text(legendLabels[1]);
</script></body></html>
